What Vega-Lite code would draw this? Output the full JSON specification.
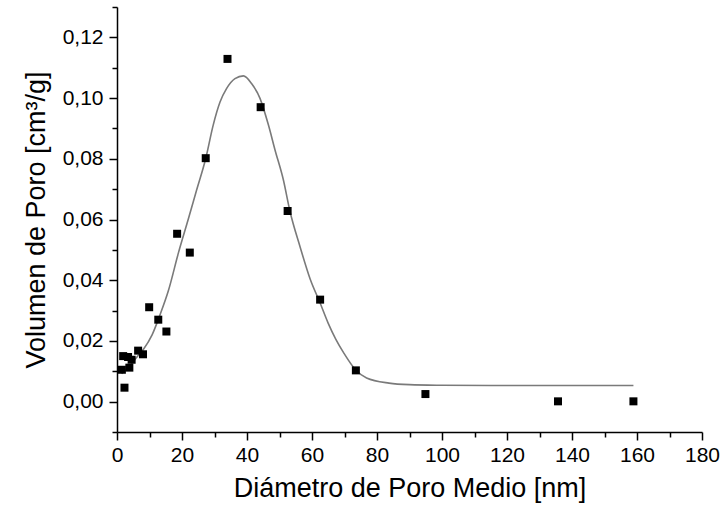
{
  "$schema": "https://vega.github.io/schema/vega-lite/v6.json",
  "width": 585,
  "height": 425,
  "autosize": {"type": "none"},
  "padding": {"left": 117, "top": 7, "right": 22, "bottom": 81},
  "background": "white",
  "config": {
    "view": {"stroke": null},
    "axis": {
      "labelFont": "Liberation Sans",
      "titleFont": "Liberation Sans",
      "domainColor": "black",
      "tickColor": "black",
      "labelColor": "black",
      "titleColor": "black",
      "grid": false,
      "domainWidth": 1.5,
      "tickWidth": 1.5,
      "labelFontSize": 21,
      "titleFontSize": 27,
      "titleFontWeight": "normal"
    }
  },
  "datasets": {
    "puntos": [
      {"diametro": 1.5, "volumen": 0.0105},
      {"diametro": 1.9, "volumen": 0.0150},
      {"diametro": 3.4, "volumen": 0.0147},
      {"diametro": 3.8, "volumen": 0.0112},
      {"diametro": 4.5, "volumen": 0.0138},
      {"diametro": 6.5, "volumen": 0.0168},
      {"diametro": 8.0, "volumen": 0.0156},
      {"diametro": 2.3, "volumen": 0.0046},
      {"diametro": 9.9, "volumen": 0.0311},
      {"diametro": 12.7, "volumen": 0.0270},
      {"diametro": 15.2, "volumen": 0.0231},
      {"diametro": 18.5, "volumen": 0.0553},
      {"diametro": 22.4, "volumen": 0.0491},
      {"diametro": 27.3, "volumen": 0.0802},
      {"diametro": 34.0, "volumen": 0.1129},
      {"diametro": 44.2, "volumen": 0.0970},
      {"diametro": 52.5, "volumen": 0.0628},
      {"diametro": 62.5, "volumen": 0.0336},
      {"diametro": 73.5, "volumen": 0.0103},
      {"diametro": 94.9, "volumen": 0.0025},
      {"diametro": 135.7, "volumen": 0.0001},
      {"diametro": 158.9, "volumen": 0.0001}
    ],
    "ajuste": [
      {"diametro": 1.4, "volumen": 0.0092},
      {"diametro": 4.0, "volumen": 0.0118},
      {"diametro": 6.2, "volumen": 0.0148},
      {"diametro": 8.1, "volumen": 0.0172},
      {"diametro": 10.8, "volumen": 0.0220},
      {"diametro": 13.2, "volumen": 0.0285},
      {"diametro": 15.8, "volumen": 0.0365},
      {"diametro": 18.9, "volumen": 0.0490},
      {"diametro": 21.9, "volumen": 0.0600},
      {"diametro": 24.5, "volumen": 0.0697},
      {"diametro": 27.3, "volumen": 0.0801},
      {"diametro": 29.6, "volumen": 0.0911},
      {"diametro": 31.7, "volumen": 0.0987},
      {"diametro": 33.7, "volumen": 0.1031},
      {"diametro": 36.3, "volumen": 0.1064},
      {"diametro": 38.9, "volumen": 0.1073},
      {"diametro": 41.4, "volumen": 0.1048},
      {"diametro": 44.0, "volumen": 0.0999},
      {"diametro": 46.6, "volumen": 0.0911},
      {"diametro": 48.6, "volumen": 0.0830},
      {"diametro": 51.2, "volumen": 0.0730},
      {"diametro": 53.2, "volumen": 0.0628},
      {"diametro": 56.3, "volumen": 0.0511},
      {"diametro": 59.4, "volumen": 0.0405},
      {"diametro": 62.5, "volumen": 0.0325},
      {"diametro": 65.0, "volumen": 0.0258},
      {"diametro": 67.3, "volumen": 0.0206},
      {"diametro": 69.8, "volumen": 0.0160},
      {"diametro": 73.4, "volumen": 0.0105},
      {"diametro": 76.8, "volumen": 0.0078},
      {"diametro": 83.7, "volumen": 0.0061},
      {"diametro": 90.0, "volumen": 0.0056},
      {"diametro": 100.0, "volumen": 0.0054},
      {"diametro": 115.0, "volumen": 0.0053},
      {"diametro": 158.9, "volumen": 0.0053}
    ]
  },
  "layer": [
    {
      "data": {"name": "ajuste"},
      "mark": {"type": "line", "color": "#7a7a7a", "strokeWidth": 1.6, "interpolate": "monotone"},
      "encoding": {
        "x": {
          "field": "diametro", "type": "quantitative",
          "scale": {"domain": [0, 180], "nice": false, "zero": false},
          "axis": {
            "orient": "bottom",
            "title": "Diámetro de Poro Medio [nm]",
            "values": [0, 20, 40, 60, 80, 100, 120, 140, 160, 180],
            "tickSize": 8,
            "labelPadding": 4,
            "titlePadding": 10,
            "labelFlush": false
          }
        },
        "y": {
          "field": "volumen", "type": "quantitative",
          "scale": {"domain": [-0.01, 0.13], "nice": false, "zero": false},
          "axis": {
            "orient": "left",
            "title": "Volumen de Poro [cm³/g]",
            "values": [0, 0.02, 0.04, 0.06, 0.08, 0.1, 0.12],
            "labelExpr": "replace(format(datum.value, '.2f'), '.', ',')",
            "tickSize": 8,
            "labelPadding": 6,
            "titlePadding": 12,
            "labelFlush": false
          }
        }
      }
    },
    {
      "data": {"name": "puntos"},
      "mark": {"type": "point", "shape": "square", "filled": true, "color": "black", "size": 64, "opacity": 1},
      "encoding": {
        "x": {
          "field": "diametro", "type": "quantitative",
          "scale": {"domain": [0, 180], "nice": false, "zero": false},
          "axis": {
            "orient": "bottom",
            "title": null,
            "values": [10, 30, 50, 70, 90, 110, 130, 150, 170],
            "labels": false,
            "domain": false,
            "tickSize": 5
          }
        },
        "y": {
          "field": "volumen", "type": "quantitative",
          "scale": {"domain": [-0.01, 0.13], "nice": false, "zero": false},
          "axis": {
            "orient": "left",
            "title": null,
            "values": [-0.01, 0.01, 0.03, 0.05, 0.07, 0.09, 0.11, 0.13],
            "labels": false,
            "domain": false,
            "tickSize": 5
          }
        }
      }
    }
  ],
  "resolve": {"axis": {"x": "independent", "y": "independent"}}
}
